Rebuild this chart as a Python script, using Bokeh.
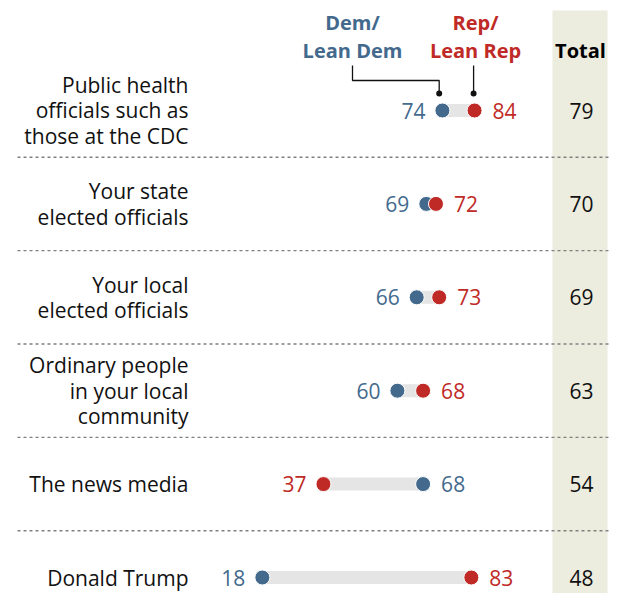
from bokeh.plotting import figure
from bokeh.models import Range1d, ColumnDataSource
from bokeh.core.properties import value
from bokeh.embed import file_html
from bokeh.resources import INLINE

# ---- data ----
categories = [
    "Public health\nofficials such as\nthose at the CDC",
    "Your state\nelected officials",
    "Your local\nelected officials",
    "Ordinary people\nin your local\ncommunity",
    "The news media",
    "Donald Trump",
]
dem = [74, 69, 66, 60, 68, 18]
rep = [84, 72, 73, 68, 37, 83]
total = [79, 70, 69, 63, 54, 48]

BLUE = "#436a8d"
RED = "#bf2a26"
FONT = "Open Sans"

PX_PER_UNIT = 3.215
X0_PX = 204.0
ROW0_PX = 110.0
ROW_PX = 93.4


def vx(px):
    return (px - X0_PX) / PX_PER_UNIT


def vy(px):
    return (px - ROW0_PX) / ROW_PX


W, H = 609, 593
p = figure(width=W, height=H, output_backend="svg", toolbar_location=None,
           x_range=Range1d(vx(0), vx(W)), y_range=Range1d(vy(H), vy(0)),
           x_axis_location=None, y_axis_location=None, min_border=0,
           outline_line_color=None, background_fill_color="white")
p.xgrid.visible = False
p.ygrid.visible = False

n = len(categories)
rows = list(range(n))

# total band
p.quad(left=[vx(552)], right=[vx(607)], top=[vy(10)], bottom=[vy(H + 5)],
       fill_color="#ececdf", line_color=None)

# separators
seps = [i + 0.5 for i in range(n - 1)]
p.segment(x0=[vx(17)] * len(seps), x1=[vx(W + 5)] * len(seps), y0=seps, y1=seps,
          line_color="#808080", line_width=1.4, line_dash="3 3")

# bars
lo = [min(a, b) for a, b in zip(dem, rep)]
hi = [max(a, b) for a, b in zip(dem, rep)]
p.hbar(y=rows, left=lo, right=hi, height=13 / ROW_PX, fill_color="#e5e5e5", line_color=None)

# dots
p.scatter(x=dem, y=rows, size=15, fill_color=BLUE, line_color="white", line_width=1)
p.scatter(x=rep, y=rows, size=15, fill_color=RED, line_color="white", line_width=1)

# value labels
left_vals, left_cols, right_vals, right_cols = [], [], [], []
for d, r in zip(dem, rep):
    if d <= r:
        left_vals.append(d); left_cols.append(BLUE)
        right_vals.append(r); right_cols.append(RED)
    else:
        left_vals.append(r); left_cols.append(RED)
        right_vals.append(d); right_cols.append(BLUE)

src_l = ColumnDataSource(dict(x=left_vals, y=rows, t=[str(v) for v in left_vals], c=left_cols))
src_r = ColumnDataSource(dict(x=right_vals, y=rows, t=[str(v) for v in right_vals], c=right_cols))
p.text(x="x", y="y", text="t", source=src_l, text_color="c", text_align="right",
       text_baseline="middle", x_offset=-17, text_font=value(FONT), text_font_size="21px")
p.text(x="x", y="y", text="t", source=src_r, text_color="c", text_align="left",
       text_baseline="middle", x_offset=18, text_font=value(FONT), text_font_size="21px")

# category labels
p.text(x=[vx(188)] * n, y=rows, text=categories, text_align="right", text_baseline="middle",
       text_font=value(FONT), text_font_size="21px", text_line_height=0.91, text_color="#111111")

# totals
p.text(x=[vx(581)] * n, y=rows, text=[str(v) for v in total], text_align="center",
       text_baseline="middle", text_font=value(FONT), text_font_size="21px", text_color="#111111")

# headers
p.text(x=[vx(580)], y=[vy(50)], text=["Total"], text_align="center", text_baseline="middle",
       text_font=value(FONT), text_font_size="20px", text_font_style="bold", text_color="#000000")
p.text(x=[vx(352)], y=[vy(36)], text=["Dem/\nLean Dem"], text_align="center", text_baseline="middle",
       text_font=value(FONT), text_font_size="20px", text_font_style="bold", text_color=BLUE,
       text_line_height=1.03)
p.text(x=[vx(475)], y=[vy(36)], text=["Rep/\nLean Rep"], text_align="center", text_baseline="middle",
       text_font=value(FONT), text_font_size="20px", text_font_style="bold", text_color=RED,
       text_line_height=1.03)

# connectors to first row
dx = dem[0] - 1
rx = rep[0] - 0.3
p.line(x=[vx(352), vx(352), dx, dx], y=[vy(65), vy(80), vy(80), vy(93)], line_color="#111111", line_width=1.3)
p.line(x=[rx, rx], y=[vy(65), vy(93)], line_color="#111111", line_width=1.3)
p.scatter(x=[dx, rx], y=[vy(93), vy(93)], size=6, fill_color="#111111", line_color=None)

open("out.html", "w").write(file_html(p, INLINE))
